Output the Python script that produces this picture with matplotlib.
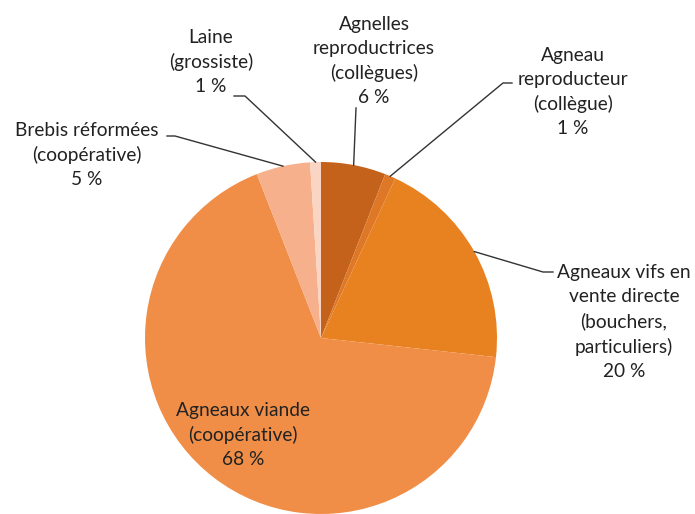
import matplotlib.pyplot as plt
import numpy as np

# parts of the sales, clockwise from 12 o'clock
labels = ["Agnelles\nreproductrices\n(collègues)",
          "Agneau\nreproducteur\n(collègue)",
          "Agneaux vifs en\nvente directe\n(bouchers,\nparticuliers)",
          "Agneaux viande\n(coopérative)",
          "Brebis réformées\n(coopérative)",
          "Laine\n(grossiste)"]
values = [6, 1, 20, 68, 5, 1]
colors = ["#C4621C", "#DE7826", "#E8811F", "#F08E48", "#F6B08C", "#FAD5C3"]

W, H = 695, 514
fig = plt.figure(figsize=(W / 100, H / 100), dpi=100)
ax = fig.add_axes([0, 0, 1, 1])

cx, cy, r = 321, H - 338, 176
wedges, _ = ax.pie(values, colors=colors, startangle=90, counterclock=False,
                   center=(cx, cy), radius=r, frame=True,
                   wedgeprops=dict(linewidth=0))
ax.set_xlim(0, W)
ax.set_ylim(0, H)
ax.set_aspect("equal")
ax.axis("off")

font = dict(family=["Lato", "DejaVu Sans"], fontsize=13.8, color="#222222",
            ha="center", va="center", linespacing=1.5)

# label text position (pixels from top-left) and leader start (None = inside)
label_pos = [(374, 61), (573, 92), (624, 322), (243, 435), (87, 155), (211, 62)]
leader = [[(356, 108)],
          [(512, 83), (503, 83)],
          [(553, 272), (543, 272)],
          None,
          [(167, 136), (175, 136)],
          [(234, 96), (245, 96)]]

for w, lab, v, (tx, ty), ld in zip(wedges, labels, values, label_pos, leader):
    ax.text(tx, H - ty, lab + "\n%d %%" % v, **font)
    if ld is None:
        continue
    mid = np.deg2rad((w.theta1 + w.theta2) / 2)
    ex, ey = cx + r * np.cos(mid), cy + r * np.sin(mid)
    xs = [p[0] for p in ld] + [ex]
    ys = [H - p[1] for p in ld] + [ey]
    ax.plot(xs, ys, color="#333333", linewidth=1)

fig.savefig("out.png", dpi=100)
